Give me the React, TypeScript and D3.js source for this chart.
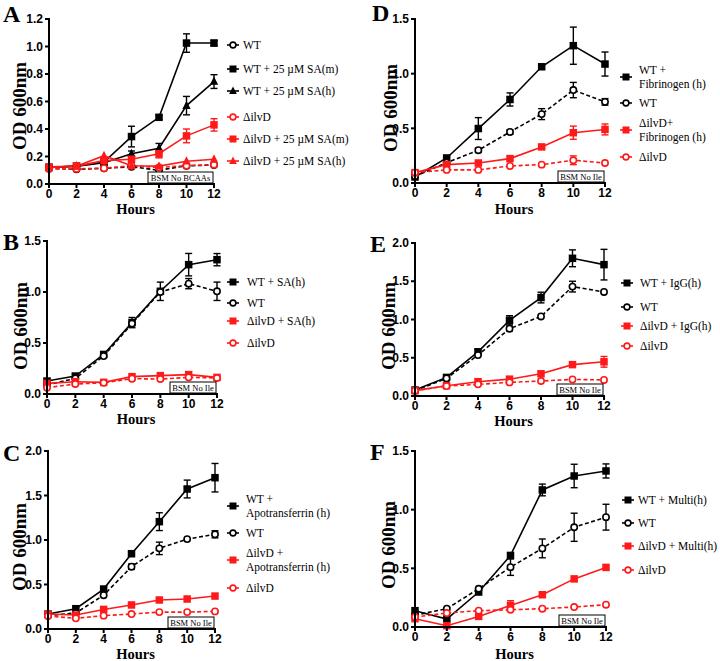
import React from "react";
import * as d3 from "d3";

const HOURS = [0, 2, 4, 6, 8, 10, 12];
const X_TICKS = [0, 2, 4, 6, 8, 10, 12];

// Panel A
const A_WT = [0.114, 0.107, 0.114, 0.126, 0.1, 0.133, 0.138];
const A_WT_ERR = [0, 0, 0, 0, 0.03, 0, 0];
const A_WT_SAM = [0.12, 0.13, 0.16, 0.345, 0.485, 1.025, 1.025];
const A_WT_SAM_ERR = [0.01, 0.01, 0.02, 0.075, 0.015, 0.067, 0.02];
const A_WT_SAH = [0.12, 0.13, 0.155, 0.22, 0.26, 0.57, 0.745];
const A_WT_SAH_ERR = [0, 0, 0, 0.02, 0.035, 0.067, 0.05];
const A_ILVD = [0.11, 0.11, 0.115, 0.133, 0.12, 0.133, 0.14];
const A_ILVD_ERR = [0, 0, 0, 0, 0, 0, 0];
const A_ILVD_SAM = [0.125, 0.13, 0.17, 0.18, 0.22, 0.35, 0.43];
const A_ILVD_SAM_ERR = [0, 0, 0, 0.02, 0.03, 0.05, 0.045];
const A_ILVD_SAH = [0.12, 0.13, 0.206, 0.133, 0.13, 0.165, 0.18];
const A_ILVD_SAH_ERR = [0, 0, 0, 0, 0, 0, 0];

// Panel B
const B_WT_SA = [0.127, 0.176, 0.388, 0.7, 1.007, 1.268, 1.317];
const B_WT_SA_ERR = [0.02, 0.02, 0.02, 0.05, 0.09, 0.11, 0.06];
const B_WT = [0.088, 0.153, 0.372, 0.69, 1.0, 1.082, 1.007];
const B_WT_ERR = [0, 0, 0, 0, 0, 0.05, 0.09];
const B_ILVD_SA = [0.104, 0.12, 0.114, 0.17, 0.18, 0.19, 0.163];
const B_ILVD_SA_ERR = [0, 0, 0, 0, 0, 0, 0];
const B_ILVD = [0.062, 0.098, 0.11, 0.15, 0.147, 0.163, 0.157];
const B_ILVD_ERR = [0, 0, 0, 0, 0, 0, 0];

// Panel C
const C_WT_APO = [0.168, 0.228, 0.449, 0.846, 1.206, 1.573, 1.7];
const C_WT_APO_ERR = [0, 0, 0, 0.03, 0.1, 0.1, 0.16];
const C_WT = [0.15, 0.18, 0.38, 0.7, 0.906, 1.01, 1.064];
const C_WT_ERR = [0, 0, 0, 0.03, 0.07, 0, 0.04];
const C_ILVD_APO = [0.168, 0.157, 0.22, 0.27, 0.326, 0.337, 0.37];
const C_ILVD_APO_ERR = [0, 0, 0, 0, 0, 0, 0];
const C_ILVD = [0.146, 0.12, 0.15, 0.168, 0.19, 0.19, 0.198];
const C_ILVD_ERR = [0, 0, 0, 0, 0, 0, 0];

// Panel D
const D_WT_FIB = [0.055, 0.229, 0.498, 0.764, 1.063, 1.256, 1.088];
const D_WT_FIB_ERR = [0, 0.02, 0.1, 0.06, 0.02, 0.17, 0.11];
const D_WT = [0.061, 0.186, 0.3, 0.467, 0.63, 0.85, 0.742];
const D_WT_ERR = [0, 0, 0.02, 0.02, 0.05, 0.07, 0.03];
const D_ILVD_FIB = [0.095, 0.168, 0.183, 0.223, 0.33, 0.46, 0.49];
const D_ILVD_FIB_ERR = [0, 0, 0, 0, 0.02, 0.06, 0.05];
const D_ILVD = [0.095, 0.12, 0.12, 0.156, 0.168, 0.208, 0.183];
const D_ILVD_ERR = [0, 0, 0, 0, 0, 0.04, 0];

// Panel E
const E_WT_IGG = [0.078, 0.243, 0.578, 0.99, 1.287, 1.8, 1.717];
const E_WT_IGG_ERR = [0, 0, 0.03, 0.06, 0.07, 0.11, 0.2];
const E_WT = [0.07, 0.23, 0.535, 0.88, 1.04, 1.43, 1.36];
const E_WT_ERR = [0, 0, 0, 0.03, 0, 0.07, 0];
const E_ILVD_IGG = [0.07, 0.135, 0.187, 0.22, 0.29, 0.41, 0.447];
const E_ILVD_IGG_ERR = [0, 0, 0, 0, 0, 0.03, 0.07];
const E_ILVD = [0.07, 0.13, 0.152, 0.178, 0.196, 0.217, 0.21];
const E_ILVD_ERR = [0, 0, 0, 0, 0, 0, 0];

// Panel F
const F_WT_MULTI = [0.139, 0.068, 0.298, 0.61, 1.168, 1.287, 1.33];
const F_WT_MULTI_ERR = [0, 0, 0, 0, 0.05, 0.1, 0.06];
const F_WT = [0.1, 0.156, 0.326, 0.51, 0.67, 0.85, 0.936];
const F_WT_ERR = [0, 0, 0, 0.07, 0.08, 0.12, 0.11];
const F_ILVD_MULTI = [0.071, 0.011, 0.09, 0.184, 0.275, 0.41, 0.508];
const F_ILVD_MULTI_ERR = [0, 0, 0, 0.04, 0, 0, 0];
const F_ILVD = [0.085, 0.119, 0.139, 0.147, 0.156, 0.17, 0.19];
const F_ILVD_ERR = [0, 0, 0, 0, 0, 0, 0];

const BLACK = "#000000";
const RED = "#ff1a1a";

type Shape = "circle" | "square" | "triangle";
type Series = {
  lines: string[];
  color: string;
  shape: Shape;
  dashed: boolean;
  values: number[];
  err: number[];
};

type PanelCfg = {
  label: string;
  labelX: number;
  labelY: number;
  x0: number;
  x1: number;
  yTop: number;
  yBot: number;
  yMax: number;
  yStep: number;
  titleX: number;
  titleY: number;
  hoursY: number;
  legMarkerX: number;
  legTextX: number;
  legRows: number[];
  box: string;
  boxW: number;
  series: Series[];
};

const SERIF = "'Liberation Serif', 'Times New Roman', serif";
const SANS = "'Liberation Sans', Arial, sans-serif";

function Marker({ shape, x, y, color, size }: { shape: Shape; x: number; y: number; color: string; size: number }) {
  if (shape === "circle") {
    return <circle cx={x} cy={y} r={size / 2 - 0.6} fill="#fff" stroke={color} strokeWidth={1.6} />;
  }
  if (shape === "square") {
    return <rect x={x - size / 2} y={y - size / 2} width={size} height={size} fill={color} />;
  }
  const s = size * 1.1;
  const pts = [
    [x, y - s * 0.6],
    [x - s / 2, y + s * 0.4],
    [x + s / 2, y + s * 0.4],
  ];
  return <polygon points={pts.map((p) => p.join(",")).join(" ")} fill={color} />;
}

function Panel({ cfg }: { cfg: PanelCfg }) {
  const x = d3.scaleLinear().domain([0, 12]).range([cfg.x0, cfg.x1]);
  const y = d3.scaleLinear().domain([0, cfg.yMax]).range([cfg.yBot, cfg.yTop]);
  const yTicks = d3.range(0, cfg.yMax + 1e-9, cfg.yStep);
  const line = d3
    .line<number>()
    .x((_, i) => x(HOURS[i]))
    .y((v) => y(v));
  const fmt = d3.format(".1f");
  const midX = (cfg.x0 + cfg.x1) / 2 + 4;
  return (
    <g>
      <text x={cfg.labelX} y={cfg.labelY} fontFamily={SERIF} fontWeight="bold" fontSize={24}>
        {cfg.label}
      </text>
      {cfg.series.map((s, si) => (
        <path
          key={"l" + si}
          d={line(s.values) || ""}
          fill="none"
          stroke={s.color}
          strokeWidth={1.6}
          strokeDasharray={s.dashed ? "4,2.5" : undefined}
        />
      ))}
      {cfg.series.map((s, si) =>
        s.values.map((v, i) =>
          s.err[i] > 0 ? (
            <g key={"e" + si + "-" + i} stroke={s.color} strokeWidth={1.4}>
              <line x1={x(HOURS[i])} x2={x(HOURS[i])} y1={y(v - s.err[i])} y2={y(v + s.err[i])} />
              <line x1={x(HOURS[i]) - 3.5} x2={x(HOURS[i]) + 3.5} y1={y(v + s.err[i])} y2={y(v + s.err[i])} />
              <line x1={x(HOURS[i]) - 3.5} x2={x(HOURS[i]) + 3.5} y1={y(v - s.err[i])} y2={y(v - s.err[i])} />
            </g>
          ) : null
        )
      )}
      {cfg.series.map((s, si) =>
        s.values.map((v, i) => (
          <Marker key={"m" + si + "-" + i} shape={s.shape} x={x(HOURS[i])} y={y(v)} color={s.color} size={7.5} />
        ))
      )}
      <rect
        x={cfg.x1 - 1 - cfg.boxW}
        y={cfg.yBot - 12}
        width={cfg.boxW}
        height={11}
        fill="#fff"
        stroke="#000"
        strokeWidth={1}
      />
      <text
        x={cfg.x1 - 1 - cfg.boxW / 2}
        y={cfg.yBot - 3.5}
        textAnchor="middle"
        fontFamily={SERIF}
        fontSize={8.5}
      >
        {cfg.box}
      </text>
      <line x1={cfg.x0} x2={cfg.x0} y1={cfg.yTop - 1} y2={cfg.yBot + 1} stroke="#000" strokeWidth={2} />
      <line x1={cfg.x0 - 1} x2={cfg.x1 + 1} y1={cfg.yBot} y2={cfg.yBot} stroke="#000" strokeWidth={2} />
      {yTicks.map((t) => (
        <g key={"yt" + t}>
          <line x1={cfg.x0 - 4} x2={cfg.x0} y1={y(t)} y2={y(t)} stroke="#000" strokeWidth={2} />
          <text
            x={cfg.x0 - 6}
            y={y(t) + 4.2}
            textAnchor="end"
            fontFamily={SANS}
            fontWeight="bold"
            fontSize={12}
          >
            {fmt(t)}
          </text>
        </g>
      ))}
      {X_TICKS.map((t) => (
        <g key={"xt" + t}>
          <line x1={x(t)} x2={x(t)} y1={cfg.yBot} y2={cfg.yBot + 4} stroke="#000" strokeWidth={2} />
          <text
            x={x(t)}
            y={cfg.yBot + 14}
            textAnchor="middle"
            fontFamily={SANS}
            fontWeight="bold"
            fontSize={12}
          >
            {t}
          </text>
        </g>
      ))}
      <text x={midX} y={cfg.hoursY} textAnchor="middle" fontFamily={SERIF} fontWeight="bold" fontSize={14.5}>
        Hours
      </text>
      <text
        transform={`translate(${cfg.titleX},${cfg.titleY}) rotate(-90)`}
        textAnchor="middle"
        fontFamily={SERIF}
        fontWeight="bold"
        fontSize={19}
      >
        OD 600nm
      </text>
      {cfg.series.map((s, si) => {
        const cy = cfg.legRows[si];
        const n = s.lines.length;
        return (
          <g key={"lg" + si}>
            <line
              x1={cfg.legMarkerX - 6}
              x2={cfg.legMarkerX + 6}
              y1={cy}
              y2={cy}
              stroke={s.color}
              strokeWidth={1.6}
            />
            <Marker shape={s.shape} x={cfg.legMarkerX} y={cy} color={s.color} size={7} />
            {s.lines.map((ln, li) => (
              <text
                key={li}
                x={cfg.legTextX}
                y={cy + (li - (n - 1) / 2) * 14 + 4}
                fontFamily={SERIF}
                fontSize={11.5}
                fill="#000"
              >
                {ln}
              </text>
            ))}
          </g>
        );
      })}
    </g>
  );
}

const PANELS: PanelCfg[] = [
  {
    label: "A", labelX: 3, labelY: 22,
    x0: 49, x1: 214, yTop: 19, yBot: 184, yMax: 1.2, yStep: 0.2,
    titleX: 26, titleY: 106, hoursY: 214,
    legMarkerX: 233, legTextX: 243, legRows: [45, 69, 91, 117, 139, 161],
    box: "BSM No BCAAs", boxW: 65,
    series: [
      { lines: ["WT"], color: BLACK, shape: "circle", dashed: true, values: A_WT, err: A_WT_ERR },
      { lines: ["WT + 25 \u00b5M SA(m)"], color: BLACK, shape: "square", dashed: false, values: A_WT_SAM, err: A_WT_SAM_ERR },
      { lines: ["WT + 25 \u00b5M SA(h)"], color: BLACK, shape: "triangle", dashed: false, values: A_WT_SAH, err: A_WT_SAH_ERR },
      { lines: ["\u0394ilvD"], color: RED, shape: "circle", dashed: true, values: A_ILVD, err: A_ILVD_ERR },
      { lines: ["\u0394ilvD + 25 \u00b5M SA(m)"], color: RED, shape: "square", dashed: false, values: A_ILVD_SAM, err: A_ILVD_SAM_ERR },
      { lines: ["\u0394ilvD + 25 \u00b5M SA(h)"], color: RED, shape: "triangle", dashed: false, values: A_ILVD_SAH, err: A_ILVD_SAH_ERR },
    ],
  },
  {
    label: "B", labelX: 3, labelY: 250,
    x0: 47, x1: 217, yTop: 241, yBot: 394, yMax: 1.5, yStep: 0.5,
    titleX: 27, titleY: 326, hoursY: 424,
    legMarkerX: 233, legTextX: 247, legRows: [282, 303, 321, 343],
    box: "BSM No Ile", boxW: 46,
    series: [
      { lines: ["WT + SA(h)"], color: BLACK, shape: "square", dashed: false, values: B_WT_SA, err: B_WT_SA_ERR },
      { lines: ["WT"], color: BLACK, shape: "circle", dashed: true, values: B_WT, err: B_WT_ERR },
      { lines: ["\u0394ilvD + SA(h)"], color: RED, shape: "square", dashed: false, values: B_ILVD_SA, err: B_ILVD_SA_ERR },
      { lines: ["\u0394ilvD"], color: RED, shape: "circle", dashed: true, values: B_ILVD, err: B_ILVD_ERR },
    ],
  },
  {
    label: "C", labelX: 3, labelY: 461,
    x0: 48, x1: 215, yTop: 451, yBot: 629, yMax: 2.0, yStep: 0.5,
    titleX: 26, titleY: 547, hoursY: 658.5,
    legMarkerX: 233, legTextX: 246, legRows: [506, 533, 560, 588],
    box: "BSM No Ile", boxW: 46,
    series: [
      { lines: ["WT +", "Apotransferrin (h)"], color: BLACK, shape: "square", dashed: false, values: C_WT_APO, err: C_WT_APO_ERR },
      { lines: ["WT"], color: BLACK, shape: "circle", dashed: true, values: C_WT, err: C_WT_ERR },
      { lines: ["\u0394ilvD +", "Apotransferrin (h)"], color: RED, shape: "square", dashed: false, values: C_ILVD_APO, err: C_ILVD_APO_ERR },
      { lines: ["\u0394ilvD"], color: RED, shape: "circle", dashed: true, values: C_ILVD, err: C_ILVD_ERR },
    ],
  },
  {
    label: "D", labelX: 372, labelY: 21,
    x0: 415, x1: 605, yTop: 19, yBot: 183, yMax: 1.5, yStep: 0.5,
    titleX: 397, titleY: 108, hoursY: 214,
    legMarkerX: 626, legTextX: 639, legRows: [77, 103, 130, 157],
    box: "BSM No Ile", boxW: 46,
    series: [
      { lines: ["WT +", "Fibrinogen (h)"], color: BLACK, shape: "square", dashed: false, values: D_WT_FIB, err: D_WT_FIB_ERR },
      { lines: ["WT"], color: BLACK, shape: "circle", dashed: true, values: D_WT, err: D_WT_ERR },
      { lines: ["\u0394ilvD+", "Fibrinogen (h)"], color: RED, shape: "square", dashed: false, values: D_ILVD_FIB, err: D_ILVD_FIB_ERR },
      { lines: ["\u0394ilvD"], color: RED, shape: "circle", dashed: true, values: D_ILVD, err: D_ILVD_ERR },
    ],
  },
  {
    label: "E", labelX: 370, labelY: 252,
    x0: 415, x1: 604, yTop: 243, yBot: 396, yMax: 2.0, yStep: 0.5,
    titleX: 395, titleY: 326, hoursY: 425.5,
    legMarkerX: 627, legTextX: 640, legRows: [283, 307, 326, 346],
    box: "BSM No Ile", boxW: 46,
    series: [
      { lines: ["WT + IgG(h)"], color: BLACK, shape: "square", dashed: false, values: E_WT_IGG, err: E_WT_IGG_ERR },
      { lines: ["WT"], color: BLACK, shape: "circle", dashed: true, values: E_WT, err: E_WT_ERR },
      { lines: ["\u0394ilvD + IgG(h)"], color: RED, shape: "square", dashed: false, values: E_ILVD_IGG, err: E_ILVD_IGG_ERR },
      { lines: ["\u0394ilvD"], color: RED, shape: "circle", dashed: true, values: E_ILVD, err: E_ILVD_ERR },
    ],
  },
  {
    label: "F", labelX: 370, labelY: 460,
    x0: 415, x1: 606, yTop: 451, yBot: 627, yMax: 1.5, yStep: 0.5,
    titleX: 395, titleY: 545, hoursY: 658.5,
    legMarkerX: 628, legTextX: 638, legRows: [500, 523, 546, 570],
    box: "BSM No Ile", boxW: 46,
    series: [
      { lines: ["WT + Multi(h)"], color: BLACK, shape: "square", dashed: false, values: F_WT_MULTI, err: F_WT_MULTI_ERR },
      { lines: ["WT"], color: BLACK, shape: "circle", dashed: true, values: F_WT, err: F_WT_ERR },
      { lines: ["\u0394ilvD + Multi(h)"], color: RED, shape: "square", dashed: false, values: F_ILVD_MULTI, err: F_ILVD_MULTI_ERR },
      { lines: ["\u0394ilvD"], color: RED, shape: "circle", dashed: true, values: F_ILVD, err: F_ILVD_ERR },
    ],
  },
];

export default function App() {
  return (
    <svg
      width={720}
      height={661}
      viewBox="0 0 720 661"
      style={{ position: "absolute", left: 0, top: 0, background: "#fff" }}
    >
      <rect width={720} height={661} fill="#fff" />
      {PANELS.map((p) => (
        <Panel key={p.label} cfg={p} />
      ))}
    </svg>
  );
}
